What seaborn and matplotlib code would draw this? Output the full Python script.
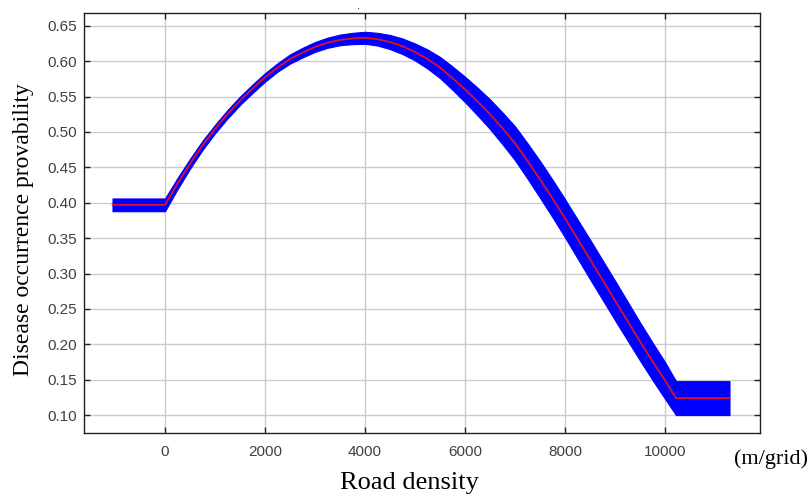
import numpy as np
import pandas as pd
import matplotlib
matplotlib.use("Agg")
import matplotlib.pyplot as plt
import seaborn as sns

# Data
road_density = [-1050, 0, 250, 500, 750, 1000, 1250, 1500, 1750, 2000, 2250,
                2500, 2750, 3000, 3250, 3500, 3750, 4000, 4250, 4500, 4750,
                5000, 5250, 5500, 5750, 6000, 6250, 6500, 6750, 7000, 7250,
                7500, 7750, 8000, 8250, 8500, 8750, 9000, 9250, 9500, 9750,
                10000, 10220, 11290]
probability = [0.397, 0.397, 0.427, 0.455, 0.481, 0.504, 0.525, 0.544, 0.561,
               0.577, 0.591, 0.603, 0.612, 0.620, 0.626, 0.630, 0.632, 0.633,
               0.631, 0.627, 0.621, 0.613, 0.603, 0.591, 0.576, 0.560, 0.543,
               0.525, 0.505, 0.484, 0.459, 0.433, 0.406, 0.378, 0.349, 0.320,
               0.291, 0.262, 0.233, 0.204, 0.176, 0.149, 0.124, 0.124]
half_width = [0.009, 0.009, 0.008, 0.007, 0.0065, 0.006, 0.006, 0.006, 0.006,
              0.006, 0.006, 0.0065, 0.0068, 0.007, 0.0072, 0.0075, 0.008,
              0.0085, 0.009, 0.010, 0.011, 0.012, 0.0135, 0.015, 0.0165,
              0.018, 0.0195, 0.021, 0.0225, 0.024, 0.025, 0.026, 0.0265,
              0.027, 0.0275, 0.028, 0.028, 0.028, 0.0275, 0.027, 0.0265,
              0.026, 0.024, 0.024]
x_ticks = [0, 2000, 4000, 6000, 8000, 10000]
y_ticks = [0.10, 0.15, 0.20, 0.25, 0.30, 0.35, 0.40, 0.45, 0.50, 0.55, 0.60, 0.65]

df = pd.DataFrame({"x": road_density, "y": probability, "hw": half_width})
df["lo"] = df["y"] - df["hw"]
df["hi"] = df["y"] + df["hw"]

sns.set_style("white")
fig = plt.figure(figsize=(8.11, 4.96), dpi=100)
ax = fig.add_axes([84 / 811, 1 - 433 / 496, (760 - 84) / 811, (433 - 13) / 496])

ax.fill_between(df["x"], df["lo"], df["hi"], color="#0000ff", linewidth=0.8,
                edgecolor="#0000ff", zorder=2)
sns.lineplot(data=df, x="x", y="y", color="#e0102a", linewidth=1.3, ax=ax,
             zorder=3, estimator=None, sort=False)

ax.set_xlim(-1620, 11900)
ax.set_ylim(0.0747, 0.668)
ax.set_xticks(x_ticks)
ax.set_yticks(y_ticks)
ax.set_xticklabels([str(t) for t in x_ticks])
ax.set_yticklabels([f"{t:.2f}" for t in y_ticks])
ax.grid(True, color="#cccccc", linewidth=1.0, zorder=0)
ax.set_axisbelow(True)
ax.tick_params(direction="in", length=4, width=1, top=True, right=True,
               bottom=True, left=True, labelsize=11, labelcolor="#404040",
               color="#222222")
ax.tick_params(axis="x", pad=9)
ax.tick_params(axis="y", pad=5)
for lab in ax.get_xticklabels() + ax.get_yticklabels():
    lab.set_fontfamily("Liberation Sans")
for s in ax.spines.values():
    s.set_color("#222222")
    s.set_linewidth(1.0)
ax.set_xlabel("")
ax.set_ylabel("")

fig.text(409 / 811, 1 - 483 / 496, "Road density", family="Liberation Serif",
         fontsize=19, ha="center", va="center", color="black")
fig.text(24 / 811, 1 - 230 / 496, "Disease occurrence provability",
         family="Liberation Serif", fontsize=17, rotation=90, ha="center",
         va="center", color="black")
fig.text(771 / 811, 1 - 459 / 496, "(m/grid)", family="Liberation Serif",
         fontsize=16, ha="center", va="center", color="black")
fig.text(358 / 811, 1 - 6 / 496, ".", family="Liberation Sans", fontsize=8,
         ha="center", va="center", color="black")

fig.savefig("out.png", dpi=100)
